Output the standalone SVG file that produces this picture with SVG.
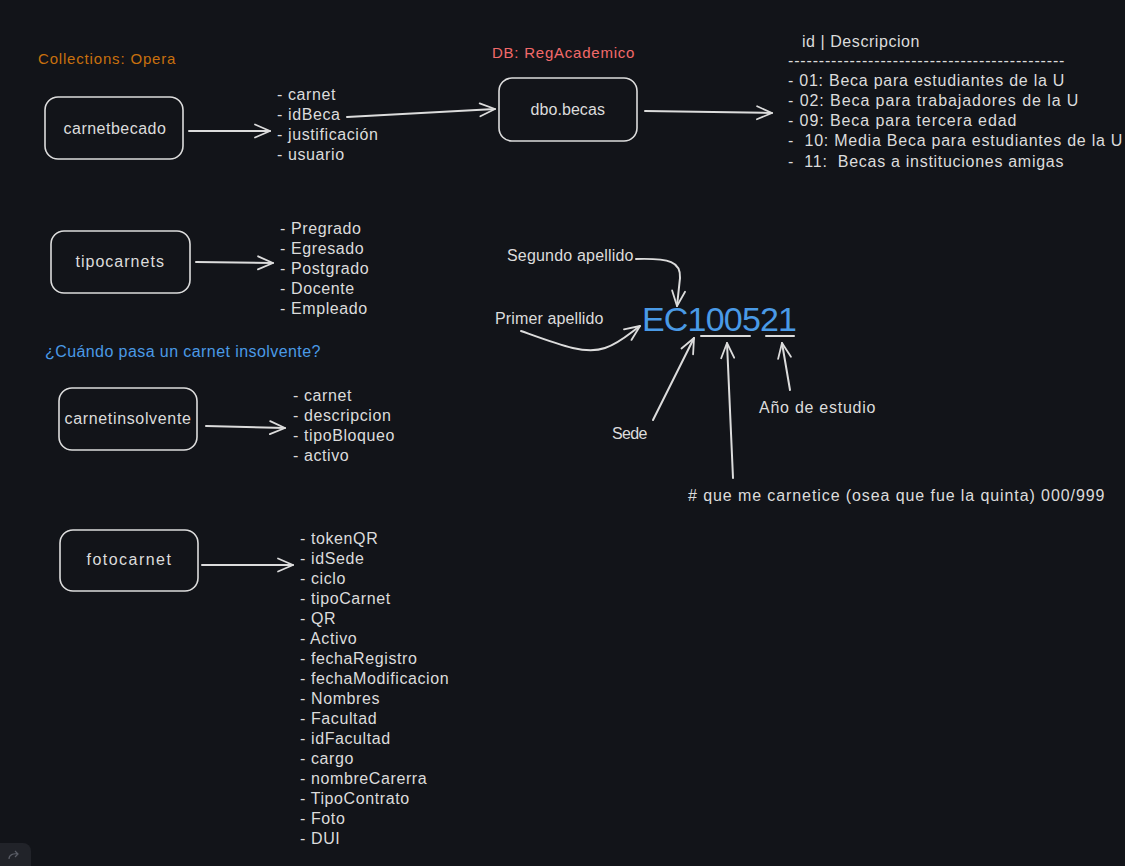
<svg xmlns="http://www.w3.org/2000/svg" width="1125" height="866" viewBox="0 0 1125 866">
<style>
  text { font-family: "Liberation Sans", "Noto Sans", sans-serif; font-size: 16px; fill: #dcdcdc; white-space: pre; letter-spacing: 0.6px; }
  .box { fill: none; stroke: #dcdcdc; stroke-width: 1.6; }
  .lbl { text-anchor: middle; }
  .conn { fill: none; stroke: #dcdcdc; stroke-width: 2; stroke-linecap: round; }
  .orange { fill: #c8700e; font-size: 15px; }
  .red { fill: #f26a6a; font-size: 15px; }
  .blue { fill: #4a9ae6; font-size: 16px; }
  .big { fill: #4a9ae6; font-size: 34px; letter-spacing: 0; }
</style>
<defs>
  <marker id="ah" viewBox="-17 -9 20 18" refX="0" refY="0" markerWidth="20" markerHeight="18" markerUnits="userSpaceOnUse" orient="auto">
    <path d="M-15,-6.5 L0,0 L-15,6.5" fill="none" stroke="#dcdcdc" stroke-width="1.8" stroke-linecap="round" stroke-linejoin="round"/>
  </marker>
</defs>
<rect x="0" y="0" width="1125" height="866" fill="#121419"/>

<g id="titles">
  <text class="orange" x="38" y="64" textLength="138">Collections: Opera</text>
  <text class="red" x="492" y="58" textLength="143">DB: RegAcademico</text>
  <text class="blue" x="45" y="357" textLength="276">¿Cuándo pasa un carnet insolvente?</text>
</g>

<g id="carnetbecado">
  <rect class="box" x="45" y="97" width="138" height="62" rx="13"/>
  <text class="lbl" x="115" y="134" textLength="103">carnetbecado</text>
</g>
<g id="carnetbecado-fields">
  <text x="277" y="100">- carnet</text>
  <text x="277" y="120">- idBeca</text>
  <text x="277" y="140">- justificación</text>
  <text x="277" y="160">- usuario</text>
</g>

<g id="dbo-becas">
  <rect class="box" x="499" y="78" width="138" height="63" rx="13"/>
  <text class="lbl" x="568" y="115" textLength="75">dbo.becas</text>
</g>

<g id="becas-table">
  <text x="802" y="47" textLength="118">id | Descripcion</text>
  <text x="788" y="66" textLength="277">---------------------------------------------</text>
  <text x="788" y="86" textLength="277">- 01: Beca para estudiantes de la U</text>
  <text x="788" y="106" textLength="291">- 02: Beca para trabajadores de la U</text>
  <text x="788" y="126" textLength="229">- 09: Beca para tercera edad</text>
  <text x="788" y="146" textLength="335">-  10: Media Beca para estudiantes de la U</text>
  <text x="788" y="167" textLength="276">-  11:  Becas a instituciones amigas</text>
</g>

<g id="tipocarnets">
  <rect class="box" x="51" y="231" width="139" height="62" rx="13"/>
  <text class="lbl" x="120" y="267" textLength="89">tipocarnets</text>
</g>
<g id="tipocarnets-fields">
  <text x="280" y="234">- Pregrado</text>
  <text x="280" y="254">- Egresado</text>
  <text x="280" y="274">- Postgrado</text>
  <text x="280" y="294">- Docente</text>
  <text x="280" y="314">- Empleado</text>
</g>

<g id="carnetinsolvente">
  <rect class="box" x="59" y="388" width="138" height="62" rx="13"/>
  <text class="lbl" x="128" y="424" textLength="127">carnetinsolvente</text>
</g>
<g id="carnetinsolvente-fields">
  <text x="293" y="401">- carnet</text>
  <text x="293" y="421">- descripcion</text>
  <text x="293" y="441">- tipoBloqueo</text>
  <text x="293" y="461">- activo</text>
</g>

<g id="fotocarnet">
  <rect class="box" x="60" y="530" width="138" height="61" rx="13"/>
  <text class="lbl" x="129" y="565" textLength="85">fotocarnet</text>
</g>
<g id="fotocarnet-fields">
  <text x="300" y="544">- tokenQR</text>
  <text x="300" y="564">- idSede</text>
  <text x="300" y="584">- ciclo</text>
  <text x="300" y="604">- tipoCarnet</text>
  <text x="300" y="624">- QR</text>
  <text x="300" y="644">- Activo</text>
  <text x="300" y="664">- fechaRegistro</text>
  <text x="300" y="684">- fechaModificacion</text>
  <text x="300" y="704">- Nombres</text>
  <text x="300" y="724">- Facultad</text>
  <text x="300" y="744">- idFacultad</text>
  <text x="300" y="764">- cargo</text>
  <text x="300" y="784">- nombreCarerra</text>
  <text x="300" y="804">- TipoContrato</text>
  <text x="300" y="824">- Foto</text>
  <text x="300" y="844">- DUI</text>
</g>

<g id="carnet-code">
  <text class="big" x="642" y="331" textLength="155">EC100521</text>
  <text x="507" y="261" textLength="127">Segundo apellido</text>
  <text x="495" y="324" textLength="109">Primer apellido</text>
  <text x="612" y="439" textLength="36">Sede</text>
  <text x="759" y="413" textLength="117">Año de estudio</text>
  <text x="688" y="501" textLength="417"># que me carnetice (osea que fue la quinta) 000/999</text>
</g>

<g id="connectors">
  <path class="conn" d="M189,131 L270,131" marker-end="url(#ah)"/>
  <path class="conn" d="M347,117 L495,109" marker-end="url(#ah)"/>
  <path class="conn" d="M645,111 L772,113" marker-end="url(#ah)"/>
  <path class="conn" d="M196,262 L273,263" marker-end="url(#ah)"/>
  <path class="conn" d="M206,426 L285,428" marker-end="url(#ah)"/>
  <path class="conn" d="M202,565 L293,565" marker-end="url(#ah)"/>
  <path class="conn" d="M636,259 C670,258 681,262 680,278 L677,306" marker-end="url(#ah)"/>
  <path class="conn" d="M521,331 C560,345 585,355 605,348 C620,343 630,333 640,326" marker-end="url(#ah)"/>
  <path class="conn" d="M653,420 L694,338" marker-end="url(#ah)"/>
  <path class="conn" d="M733,478 L727,343" marker-end="url(#ah)"/>
  <path class="conn" d="M790,390 L782,343" marker-end="url(#ah)"/>
  <path class="conn" d="M701,336 L750,336"/>
  <path class="conn" d="M766,336 L794,336"/>
</g>

<g id="ui-corner">
  <rect x="-10" y="843" width="41" height="40" rx="8" fill="#212329"/>
  <path d="M9,859 C9,855 13,853 18,854 M15,851 L18,854 L15,857" fill="none" stroke="#5a5d66" stroke-width="1.2"/>
</g>
</svg>
